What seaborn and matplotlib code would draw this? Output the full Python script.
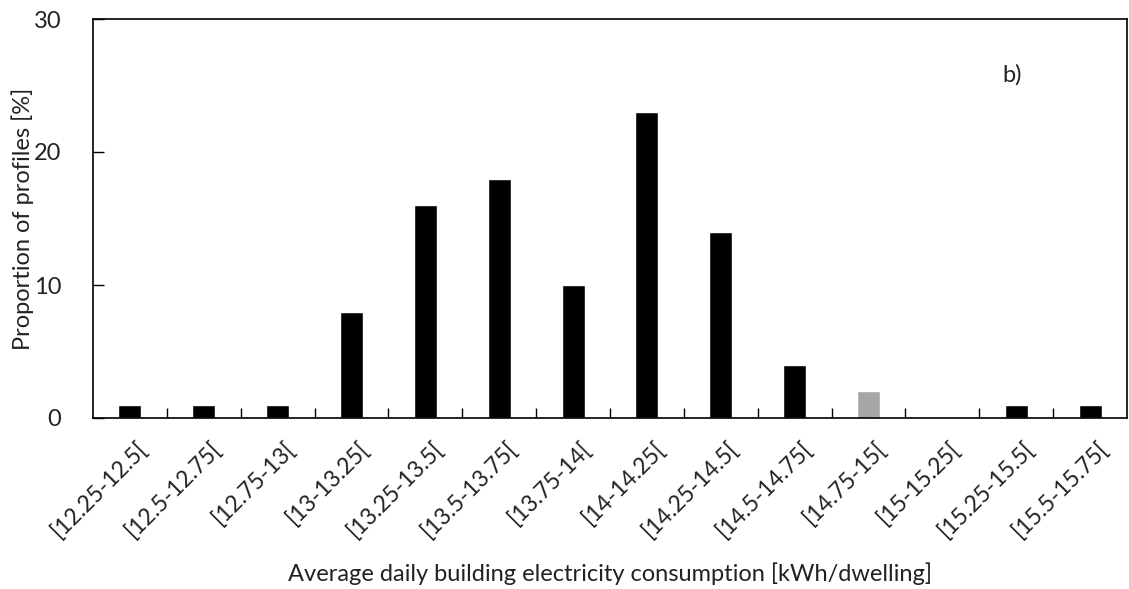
import matplotlib
matplotlib.use("Agg")
import matplotlib.pyplot as plt
import matplotlib.transforms as mtransforms
import seaborn as sns
import pandas as pd
import numpy as np

categories = ["[12.25-12.5[", "[12.5-12.75[", "[12.75-13[", "[13-13.25[", "[13.25-13.5[",
              "[13.5-13.75[", "[13.75-14[", "[14-14.25[", "[14.25-14.5[", "[14.5-14.75[",
              "[14.75-15[", "[15-15.25[", "[15.25-15.5[", "[15.5-15.75["]
values = [1, 1, 1, 8, 16, 18, 10, 23, 14, 4, 2, 0, 1, 1]
bar_colors = ["#000000"] * 10 + ["#a6a6a6"] + ["#000000"] * 3

sns.set_style("white")
plt.rcParams['font.family'] = ['Lato', 'DejaVu Sans']

df = pd.DataFrame({"cat": categories, "val": values})

fig = plt.figure(figsize=(11.29, 5.89), dpi=100)
ax = fig.add_axes([93/1129, 1 - 418/589, (1127-93)/1129, (418-19)/589])

sns.barplot(data=df, x="cat", y="val", hue="cat", palette=bar_colors, legend=False,
            width=0.31, ax=ax, saturation=1)

ax.set_ylim(0, 30)
ax.set_xlim(-0.5, len(categories) - 0.5)
ax.set_yticks([0, 10, 20, 30])
ax.tick_params(axis='y', left=True, direction='in', length=8, width=1, labelsize=17, pad=23,
               color='black', labelcolor='#222222')
ax.set_xticks(np.arange(len(categories)))
ax.set_xticklabels(categories, rotation=45, ha='right', rotation_mode='anchor', fontsize=16.5, color='#222222')
ax.tick_params(axis='x', which='major', bottom=False, length=0, pad=14)
ax.set_xticks(np.arange(len(categories) - 1) + 0.5, minor=True)
ax.tick_params(axis='x', which='minor', bottom=True, direction='in', length=7, width=1, color='black')

offset = mtransforms.ScaledTranslation(7/100, 0, fig.dpi_scale_trans)
for lab in ax.get_xticklabels():
    lab.set_transform(lab.get_transform() + offset)

for s in ax.spines.values():
    s.set_color('black')
    s.set_linewidth(1.2)

ax.set_xlabel("Average daily building electricity consumption [kWh/dwelling]", fontsize=17, color='#222222')
ax.xaxis.set_label_coords(0.5, (418 - 562) / 399)
ax.set_ylabel("Proportion of profiles [%]", fontsize=17, color='#222222')
ax.yaxis.set_label_coords((34 - 93) / 1034, 0.5)
ax.text(0.889, 0.86, "b)", transform=ax.transAxes, fontsize=17, ha='center', va='center', color='#222222')

fig.savefig("out.png", dpi=100)
